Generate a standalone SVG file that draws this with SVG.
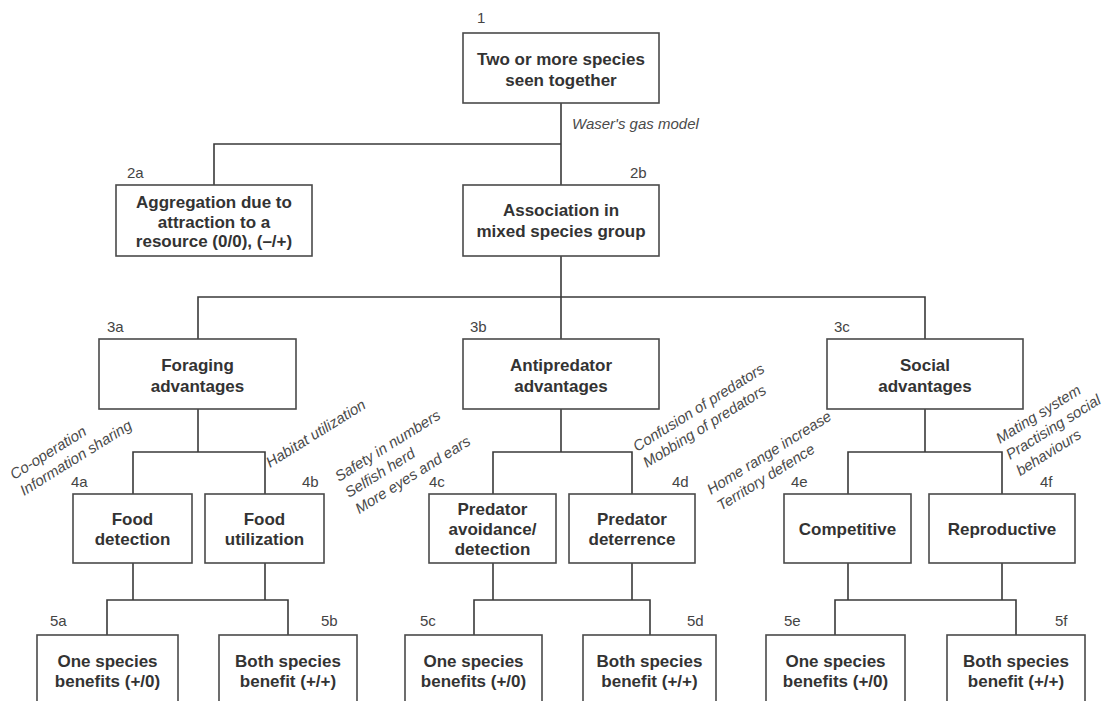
<svg xmlns="http://www.w3.org/2000/svg" width="1108" height="701" viewBox="0 0 1108 701">
<style>
.box{fill:#fff;stroke:#4a4a4a;stroke-width:1.6}
.t{font-family:"Liberation Sans",Arial,sans-serif;font-weight:bold;font-size:17px;fill:#333;text-anchor:middle}
.n{font-family:"Liberation Sans",Arial,sans-serif;font-size:15px;fill:#444}
.i{font-family:"Liberation Sans",Arial,sans-serif;font-style:italic;font-size:15px;fill:#4a4a4a}
.c{fill:none;stroke:#3a3a3a;stroke-width:1.6}
</style>
<rect width="1108" height="701" fill="#fff"/>
<g id="connectors" class="c">
<path d="M561 103V185M214 185V144H561M561 256V339M198 339V297H925V339"/>
<path d="M198 409V452M133 494V452H265V494"/>
<path d="M561 409V452M493 494V452H632V494"/>
<path d="M925 409V452M848 494V452H1002V494"/>
<path d="M133 563V600M265 563V600M107 635V600H288V635"/>
<path d="M493 563V600M632 563V600M474 635V600H650V635"/>
<path d="M848 563V600M1002 563V600M835 635V600H1016V635"/>
</g>
<g id="edge-labels" class="i">
<text x="572" y="129">Waser's gas model</text>
<text transform="translate(14 480) rotate(-32)"><tspan x="0" dy="0">Co-operation</tspan><tspan x="0" dy="19">Information sharing</tspan></text>
<text transform="translate(270 468) rotate(-32)">Habitat utilization</text>
<text transform="translate(339 482) rotate(-32)"><tspan x="0" dy="0">Safety in numbers</tspan><tspan x="0" dy="19">Selfish herd</tspan><tspan x="0" dy="19">More eyes and ears</tspan></text>
<text transform="translate(637 452) rotate(-32)"><tspan x="0" dy="0">Confusion of predators</tspan><tspan x="0" dy="19">Mobbing of predators</tspan></text>
<text transform="translate(711 495) rotate(-32)"><tspan x="0" dy="0">Home range increase</tspan><tspan x="0" dy="19">Territory defence</tspan></text>
<text transform="translate(1000 444) rotate(-32)"><tspan x="0" dy="0">Mating system</tspan><tspan x="0" dy="19">Practising social</tspan><tspan x="0" dy="19">behaviours</tspan></text>
</g>
<g id="n1"><rect class="box" x="463" y="33" width="196" height="70"/><text class="n" x="477" y="23">1</text><text class="t" x="561" y="65">Two or more species</text><text class="t" x="561" y="86">seen together</text></g>
<g id="n2a"><rect class="box" x="116" y="185" width="196" height="71"/><text class="n" x="127" y="178">2a</text><text class="t" x="214" y="207.5">Aggregation due to</text><text class="t" x="214" y="227.5">attraction to a</text><text class="t" x="214" y="247">resource (0/0), (–/+)</text></g>
<g id="n2b"><rect class="box" x="463" y="185" width="196" height="71"/><text class="n" x="630" y="178">2b</text><text class="t" x="561" y="216">Association in</text><text class="t" x="561" y="237">mixed species group</text></g>
<g id="n3a"><rect class="box" x="99" y="339" width="197" height="70"/><text class="n" x="107" y="332">3a</text><text class="t" x="197.5" y="371">Foraging</text><text class="t" x="197.5" y="391.5">advantages</text></g>
<g id="n3b"><rect class="box" x="463" y="339" width="196" height="70"/><text class="n" x="470" y="332">3b</text><text class="t" x="561" y="371">Antipredator</text><text class="t" x="561" y="391.5">advantages</text></g>
<g id="n3c"><rect class="box" x="827" y="339" width="196" height="70"/><text class="n" x="834" y="332">3c</text><text class="t" x="925" y="371">Social</text><text class="t" x="925" y="391.5">advantages</text></g>
<g id="n4a"><rect class="box" x="73" y="494" width="119" height="69"/><text class="n" x="71" y="487">4a</text><text class="t" x="132.5" y="525">Food</text><text class="t" x="132.5" y="545">detection</text></g>
<g id="n4b"><rect class="box" x="205" y="494" width="119" height="69"/><text class="n" x="302" y="487">4b</text><text class="t" x="264.5" y="525">Food</text><text class="t" x="264.5" y="545">utilization</text></g>
<g id="n4c"><rect class="box" x="429" y="494" width="127" height="69"/><text class="n" x="429" y="487">4c</text><text class="t" x="492.5" y="515">Predator</text><text class="t" x="492.5" y="535">avoidance/</text><text class="t" x="492.5" y="555">detection</text></g>
<g id="n4d"><rect class="box" x="569" y="494" width="126" height="69"/><text class="n" x="672" y="487">4d</text><text class="t" x="632" y="525">Predator</text><text class="t" x="632" y="545">deterrence</text></g>
<g id="n4e"><rect class="box" x="784" y="494" width="127" height="69"/><text class="n" x="791" y="487">4e</text><text class="t" x="847.5" y="535">Competitive</text></g>
<g id="n4f"><rect class="box" x="929" y="494" width="146" height="69"/><text class="n" x="1040" y="487">4f</text><text class="t" x="1002" y="535">Reproductive</text></g>
<g id="n5a"><rect class="box" x="37" y="635" width="141" height="80"/><text class="n" x="50" y="626">5a</text><text class="t" x="107.5" y="667">One species</text><text class="t" x="107.5" y="687">benefits (+/0)</text></g>
<g id="n5b"><rect class="box" x="219" y="635" width="138" height="80"/><text class="n" x="321" y="626">5b</text><text class="t" x="288" y="667">Both species</text><text class="t" x="288" y="687">benefit (+/+)</text></g>
<g id="n5c"><rect class="box" x="405" y="635" width="137" height="80"/><text class="n" x="420" y="626">5c</text><text class="t" x="473.5" y="667">One species</text><text class="t" x="473.5" y="687">benefits (+/0)</text></g>
<g id="n5d"><rect class="box" x="583" y="635" width="133" height="80"/><text class="n" x="687" y="626">5d</text><text class="t" x="649.5" y="667">Both species</text><text class="t" x="649.5" y="687">benefit (+/+)</text></g>
<g id="n5e"><rect class="box" x="766" y="635" width="139" height="80"/><text class="n" x="784" y="626">5e</text><text class="t" x="835.5" y="667">One species</text><text class="t" x="835.5" y="687">benefits (+/0)</text></g>
<g id="n5f"><rect class="box" x="947" y="635" width="138" height="80"/><text class="n" x="1055" y="626">5f</text><text class="t" x="1016" y="667">Both species</text><text class="t" x="1016" y="687">benefit (+/+)</text></g>
</svg>
